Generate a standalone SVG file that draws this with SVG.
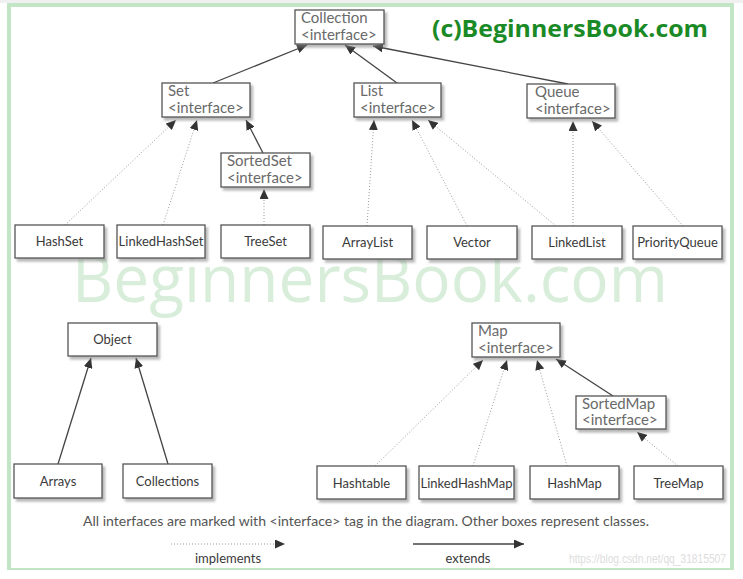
<svg xmlns="http://www.w3.org/2000/svg" width="743" height="579" viewBox="0 0 743 579">
  <defs>
    <style>
      .box { fill: #ffffff; stroke: #555555; stroke-width: 1.3; filter: url(#shadow); }
      .iname { font-family: Lato, "Open Sans", sans-serif; font-size: 15px; fill: #6a6a6a; }
      .cname { font-family: Lato, "Open Sans", sans-serif; font-size: 13px; fill: #3a3a3a; text-anchor: middle; }
      .ext { stroke: #444444; stroke-width: 1.3; fill: none; marker-end: url(#head); }
      .impl { stroke: #9a9a9a; stroke-width: 1; stroke-dasharray: 1 2; fill: none; marker-end: url(#head); }
      .note { font-family: Lato, "Open Sans", sans-serif; font-size: 12.5px; fill: #555555; }
      .legend { font-family: Lato, "Open Sans", sans-serif; font-size: 13px; fill: #3a3a3a; text-anchor: middle; }
    </style>
    <filter id="shadow" x="-10%" y="-20%" width="130%" height="150%">
      <feDropShadow dx="2.5" dy="3" stdDeviation="1.3" flood-color="#808080" flood-opacity="0.55"/>
    </filter>
    <marker id="head" markerUnits="userSpaceOnUse" markerWidth="11" markerHeight="9" refX="10" refY="4.5" orient="auto">
      <path d="M0,0 L10,4.5 L0,9 Z" fill="#333333"/>
    </marker>
  </defs>

  <!-- page background and frame -->
  <rect x="0" y="0" width="743" height="579" fill="#ffffff"/>
  <rect x="0" y="0" width="743" height="3" fill="#f0f0f0"/>
  <rect x="7" y="3" width="727" height="4" fill="#c2e5c6"/>
  <rect x="7" y="3" width="4" height="567" fill="#c2e5c6"/>
  <rect x="730" y="3" width="4" height="567" fill="#c2e5c6"/>
  <rect x="7" y="568" width="727" height="2" fill="#c2e5c6"/>

  <!-- large background watermark -->
  <text x="72" y="302" font-family="'Open Sans', 'Noto Sans', sans-serif" font-size="66" fill="#d8eeda" textLength="596" lengthAdjust="spacingAndGlyphs">BeginnersBook.com</text>

  <!-- title -->
  <text x="432" y="37" font-family="'Open Sans', 'Noto Sans', sans-serif" font-size="24" font-weight="bold" fill="#1a8a26" textLength="276" lengthAdjust="spacingAndGlyphs">(c)BeginnersBook.com</text>

  <!-- connectors -->
  <g id="connectors">
    <line class="ext" x1="213" y1="83" x2="307" y2="45"/>
    <line class="ext" x1="397" y1="83" x2="345" y2="45"/>
    <line class="ext" x1="568" y1="84" x2="373" y2="46"/>
    <line class="impl" x1="65" y1="225" x2="176" y2="120"/>
    <line class="impl" x1="163" y1="225" x2="197" y2="120"/>
    <line class="ext" x1="263" y1="153" x2="246" y2="120"/>
    <line class="impl" x1="264" y1="225" x2="264" y2="189"/>
    <line class="impl" x1="367" y1="226" x2="374" y2="120"/>
    <line class="impl" x1="467" y1="226" x2="412" y2="120"/>
    <line class="impl" x1="556" y1="226" x2="428" y2="120"/>
    <line class="impl" x1="573" y1="226" x2="573" y2="121"/>
    <line class="impl" x1="683" y1="226" x2="592" y2="121"/>
    <line class="ext" x1="58" y1="464" x2="91" y2="358"/>
    <line class="ext" x1="168" y1="464" x2="136" y2="358"/>
    <line class="impl" x1="375" y1="466" x2="483" y2="360"/>
    <line class="impl" x1="473" y1="466" x2="507" y2="360"/>
    <line class="impl" x1="567" y1="466" x2="537" y2="360"/>
    <line class="ext" x1="613" y1="396" x2="556" y2="359"/>
    <line class="impl" x1="678" y1="466" x2="637" y2="432"/>
  </g>

  <!-- interfaces -->
  <g id="Collection">
    <rect class="box" x="295" y="10" width="89" height="34"/>
    <text class="iname" x="301" y="23">Collection</text>
    <text class="iname" x="301" y="40">&lt;interface&gt;</text>
  </g>
  <g id="Set">
    <rect class="box" x="162" y="83" width="88" height="34"/>
    <text class="iname" x="168" y="96">Set</text>
    <text class="iname" x="168" y="113">&lt;interface&gt;</text>
  </g>
  <g id="List">
    <rect class="box" x="354" y="83" width="87" height="34"/>
    <text class="iname" x="360" y="96">List</text>
    <text class="iname" x="360" y="113">&lt;interface&gt;</text>
  </g>
  <g id="Queue">
    <rect class="box" x="527" y="84" width="88" height="34"/>
    <text class="iname" x="535" y="97">Queue</text>
    <text class="iname" x="535" y="114">&lt;interface&gt;</text>
  </g>
  <g id="SortedSet">
    <rect class="box" x="221" y="153" width="89" height="34"/>
    <text class="iname" x="227" y="166">SortedSet</text>
    <text class="iname" x="227" y="183">&lt;interface&gt;</text>
  </g>
  <g id="Map">
    <rect class="box" x="472" y="323" width="88" height="34"/>
    <text class="iname" x="478" y="336">Map</text>
    <text class="iname" x="478" y="353">&lt;interface&gt;</text>
  </g>
  <g id="SortedMap">
    <rect class="box" x="576" y="396" width="90" height="33"/>
    <text class="iname" x="582" y="409">SortedMap</text>
    <text class="iname" x="582" y="425">&lt;interface&gt;</text>
  </g>

  <!-- classes -->
  <g id="HashSet">
    <rect class="box" x="15" y="225" width="89" height="33"/>
    <text class="cname" x="59.5" y="246">HashSet</text>
  </g>
  <g id="LinkedHashSet">
    <rect class="box" x="117" y="225" width="88" height="33"/>
    <text class="cname" x="161" y="246" font-size="12.5">LinkedHashSet</text>
  </g>
  <g id="TreeSet">
    <rect class="box" x="221" y="225" width="89" height="33"/>
    <text class="cname" x="265.5" y="246">TreeSet</text>
  </g>
  <g id="ArrayList">
    <rect class="box" x="323" y="226" width="89" height="33"/>
    <text class="cname" x="367.5" y="247">ArrayList</text>
  </g>
  <g id="Vector">
    <rect class="box" x="427" y="226" width="90" height="33"/>
    <text class="cname" x="472" y="247">Vector</text>
  </g>
  <g id="LinkedList">
    <rect class="box" x="532" y="226" width="90" height="33"/>
    <text class="cname" x="577" y="247">LinkedList</text>
  </g>
  <g id="PriorityQueue">
    <rect class="box" x="633" y="226" width="89" height="33"/>
    <text class="cname" x="677.5" y="247">PriorityQueue</text>
  </g>
  <g id="Object">
    <rect class="box" x="68" y="323" width="89" height="33"/>
    <text class="cname" x="112.5" y="344">Object</text>
  </g>
  <g id="Arrays">
    <rect class="box" x="14" y="464" width="88" height="34"/>
    <text class="cname" x="58" y="486">Arrays</text>
  </g>
  <g id="Collections">
    <rect class="box" x="123" y="464" width="89" height="34"/>
    <text class="cname" x="167.5" y="486">Collections</text>
  </g>
  <g id="Hashtable">
    <rect class="box" x="317" y="466" width="89" height="33"/>
    <text class="cname" x="361.5" y="488">Hashtable</text>
  </g>
  <g id="LinkedHashMap">
    <rect class="box" x="419" y="466" width="95" height="33"/>
    <text class="cname" x="466.5" y="488">LinkedHashMap</text>
  </g>
  <g id="HashMap">
    <rect class="box" x="530" y="466" width="89" height="33"/>
    <text class="cname" x="574.5" y="488">HashMap</text>
  </g>
  <g id="TreeMap">
    <rect class="box" x="634" y="466" width="89" height="33"/>
    <text class="cname" x="678.5" y="488">TreeMap</text>
  </g>

  <!-- legend -->
  <g id="legend">
    <text class="note" x="83" y="526" textLength="566" lengthAdjust="spacingAndGlyphs">All interfaces are marked with &lt;interface&gt; tag in the diagram. Other boxes represent classes.</text>
    <line class="impl" x1="171" y1="544" x2="285" y2="544"/>
    <line class="ext" x1="413" y1="544" x2="524" y2="544"/>
    <text class="legend" x="228" y="563">implements</text>
    <text class="legend" x="468" y="563">extends</text>
  </g>

  <!-- source credit -->
  <text x="569" y="563" font-family="'Liberation Sans', Arial, sans-serif" font-size="12" fill="#dddddd" textLength="157" lengthAdjust="spacingAndGlyphs">https://blog.csdn.net/qq_31815507</text>
</svg>
